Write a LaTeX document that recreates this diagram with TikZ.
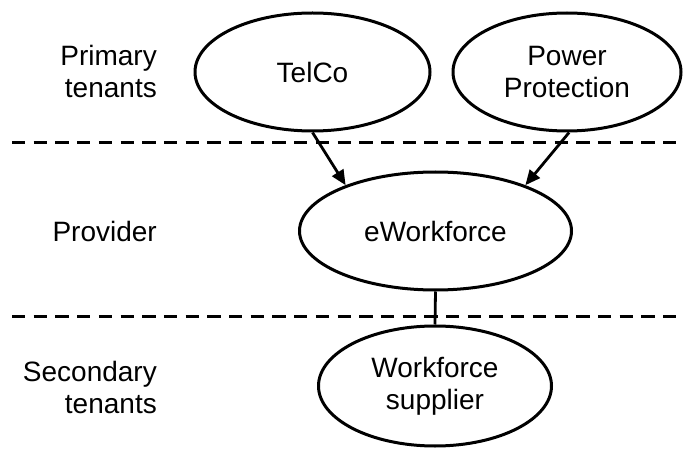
\documentclass[tikz,border=0pt]{standalone}
\usepackage{fontspec}
\setmainfont{Liberation Sans}
\usetikzlibrary{shapes.geometric,arrows.meta}

\tikzset{
  party/.style={ellipse, draw=black, line width=3pt, inner sep=0pt,
    align=center, font=\fontsize{28}{32}\selectfont},
  tier/.style={anchor=east, align=right, inner sep=0pt,
    font=\fontsize{28}{32}\selectfont},
  divider/.style={line width=3pt, dash pattern=on 13.3pt off 8.4pt},
  flow/.style={line width=2.8pt, -{Triangle[length=15pt,width=13pt]}},
  link/.style={line width=2.8pt}
}

\begin{document}
\begin{tikzpicture}[x=1pt,y=-1pt]
  \useasboundingbox (0,0) rectangle (683,449);

  % tier labels on the left
  \node[tier] (lprimary)   at (157,71)  {Primary\\tenants};
  \node[tier] (lprovider)  at (157,231) {Provider};
  \node[tier] (lsecondary) at (157,387) {Secondary\\tenants};

  % tier separators
  \coordinate (d1a) at (12,143);
  \coordinate (d1b) at (683,143);
  \coordinate (d2a) at (12,316);
  \coordinate (d2b) at (683,316);
  \draw[divider] (d1a) -- (d1b);
  \draw[divider] (d2a) -- (d2b);

  % parties
  \node[party, minimum width=235pt, minimum height=118pt] (telco) at (312.5,72) {TelCo};
  \node[party, minimum width=228pt, minimum height=118pt] (power) at (567,72) {Power\\Protection};
  \node[party, minimum width=272pt, minimum height=118pt] (ework) at (435.5,231) {eWorkforce};
  \node[party, minimum width=233pt, minimum height=120pt] (supplier) at (435,386) {Workforce\\supplier};

  % relations
  \draw[flow] (telco.south) -- (ework.153);
  \draw[flow] (power.272) -- (ework.27);
  \draw[link] (ework.south) -- (supplier.north);
\end{tikzpicture}
\end{document}
